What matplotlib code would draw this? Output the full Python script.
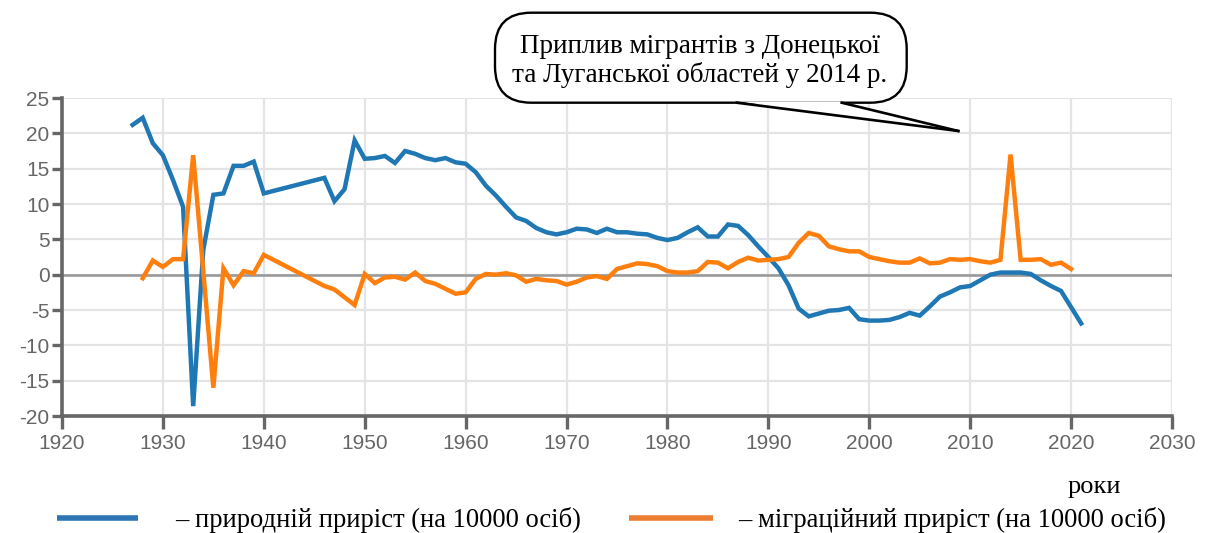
import matplotlib
matplotlib.use("Agg")
import matplotlib.pyplot as plt
from matplotlib.patches import FancyBboxPatch, Polygon
from matplotlib.lines import Line2D

plt.rcParams['axes.unicode_minus'] = False

# ---- data ----
years_natural = list(range(1927, 1941)) + list(range(1946, 2022))
natural_growth = [21.2, 22.2, 18.6, 16.9, 13.4, 9.6, -18.6, 3.5, 11.3, 11.5, 15.4, 15.4, 16.0, 11.5,
                  13.7, 10.4, 12.1, 19.0, 16.4, 16.5, 16.8, 15.8, 17.5, 17.1, 16.5, 16.2, 16.5, 15.9,
                  15.7, 14.5, 12.6, 11.2, 9.6, 8.1, 7.6, 6.6, 6.0, 5.7, 6.0, 6.5, 6.4, 5.9, 6.5, 6.0,
                  6.0, 5.8, 5.7, 5.2, 4.9, 5.2, 6.0, 6.7, 5.4, 5.4, 7.1, 6.9, 5.6, 4.0, 2.5, 0.9,
                  -1.5, -4.8, -5.9, -5.5, -5.1, -5.0, -4.7, -6.3, -6.5, -6.5, -6.4, -6.0, -5.4, -5.8,
                  -4.5, -3.1, -2.5, -1.8, -1.6, -0.8, 0.0, 0.3, 0.3, 0.3, 0.1, -0.8, -1.6, -2.3,
                  -4.6, -6.9]

years_migration = list(range(1928, 1941)) + list(range(1946, 2021))
migration_growth = [-0.5, 2.0, 1.1, 2.2, 2.2, 16.9, 0.5, -16.0, 0.9, -1.5, 0.5, 0.2, 2.8,
                    -1.6, -2.1, -3.2, -4.3, 0.1, -1.2, -0.4, -0.3, -0.7, 0.3, -0.9, -1.3, -2.0,
                    -2.7, -2.5, -0.6, 0.1, 0.0, 0.2, -0.1, -1.0, -0.6, -0.8, -0.9, -1.4, -1.0,
                    -0.4, -0.2, -0.6, 0.8, 1.2, 1.6, 1.5, 1.2, 0.5, 0.3, 0.3, 0.5, 1.8, 1.7,
                    0.9, 1.8, 2.4, 2.0, 2.1, 2.2, 2.5, 4.5, 5.9, 5.5, 4.0, 3.6, 3.3, 3.3, 2.5,
                    2.2, 1.9, 1.7, 1.7, 2.3, 1.6, 1.7, 2.2, 2.1, 2.2, 1.9, 1.7, 2.1, 17.0, 2.1,
                    2.1, 2.2, 1.4, 1.7, 0.8]

x_ticks = [1920, 1930, 1940, 1950, 1960, 1970, 1980, 1990, 2000, 2010, 2020, 2030]
y_ticks = [-20, -15, -10, -5, 0, 5, 10, 15, 20, 25]

callout_text = "Приплив мігрантів з Донецької\nта Луганської областей у 2014 р."
legend_natural = "– природній приріст (на 10000 осіб)"
legend_migration = "– міграційний приріст (на 10000 осіб)"
x_label = "роки"

# ---- figure ----
W, H = 1208, 533
fig = plt.figure(figsize=(W / 100, H / 100), dpi=100)
fig.patch.set_facecolor("white")

def fx(px):
    return px / W

def fy(py):
    return 1 - py / H

ax = fig.add_axes([fx(62), fy(416), fx(1172) - fx(62), fy(98) - fy(416)])
ax.set_xlim(1920, 2030)
ax.set_ylim(-20, 25)
ax.set_xticks(x_ticks)
ax.set_yticks(y_ticks)

ax.grid(True, color="#e4e4e4", linewidth=1.6, zorder=0)
ax.set_axisbelow(True)
ax.axhline(0, color="#9a9a9a", linewidth=1.9, zorder=1)

ax.plot(years_natural, natural_growth, color="#1f77b4", linewidth=3.2,
        solid_joinstyle="miter", zorder=3)
ax.plot(years_migration, migration_growth, color="#ff7f0e", linewidth=3.2,
        solid_joinstyle="miter", zorder=3)

for s in ["top", "right"]:
    ax.spines[s].set_visible(False)
for s in ["left", "bottom"]:
    ax.spines[s].set_color("#666666")
    ax.spines[s].set_linewidth(2.6)

ax.tick_params(axis="y", length=7, width=2.4, color="#666666", labelcolor="#666666",
               labelsize=15, pad=2)
ax.tick_params(axis="x", length=9, width=2.4, color="#666666", labelcolor="#666666",
               labelsize=15, pad=4)
for lab in ax.get_xticklabels() + ax.get_yticklabels():
    lab.set_fontfamily("Liberation Sans")

# ---- callout ----
box = FancyBboxPatch((fx(495), fy(102.7)), fx(906.7) - fx(495), fy(12.7) - fy(102.7),
                     boxstyle="round,pad=0,rounding_size=0.03",
                     transform=fig.transFigure, facecolor="white", edgecolor="black",
                     linewidth=1.7, mutation_aspect=W / H, zorder=5)
fig.patches.append(box)
tail = Polygon([(fx(738), fy(101.5)), (fx(840), fy(101.5)), (fx(958.3), fy(131))],
               closed=True, transform=fig.transFigure, facecolor="white",
               edgecolor="none", zorder=6)
fig.patches.append(tail)
fig.lines.append(Line2D([fx(736.7), fx(958.3)], [fy(102.7), fy(131)],
                        transform=fig.transFigure, color="black", linewidth=1.9, zorder=7))
fig.lines.append(Line2D([fx(841.7), fx(958.3)], [fy(102.7), fy(131)],
                        transform=fig.transFigure, color="black", linewidth=1.9, zorder=7))
fig.text(fx(700), fy(61), callout_text, ha="center", va="center",
         fontsize=19.5, family="Liberation Serif", linespacing=1.17, zorder=8)

# ---- x label and legend ----
fig.text(fx(1094), fy(487), x_label, ha="center", va="center",
         fontsize=19, family="Liberation Serif")

fig.lines.append(Line2D([fx(57), fx(138)], [fy(518), fy(518)], transform=fig.transFigure,
                        color="#2e75b6", linewidth=4.0, solid_capstyle="butt"))
fig.lines.append(Line2D([fx(629), fx(713)], [fy(518), fy(518)], transform=fig.transFigure,
                        color="#ed7d31", linewidth=4.0, solid_capstyle="butt"))
fig.text(fx(175), fy(520), legend_natural, ha="left", va="center",
         fontsize=19.2, family="Liberation Serif")
fig.text(fx(738), fy(520), legend_migration, ha="left", va="center",
         fontsize=19.2, family="Liberation Serif")

fig.savefig("out.png", dpi=100)
